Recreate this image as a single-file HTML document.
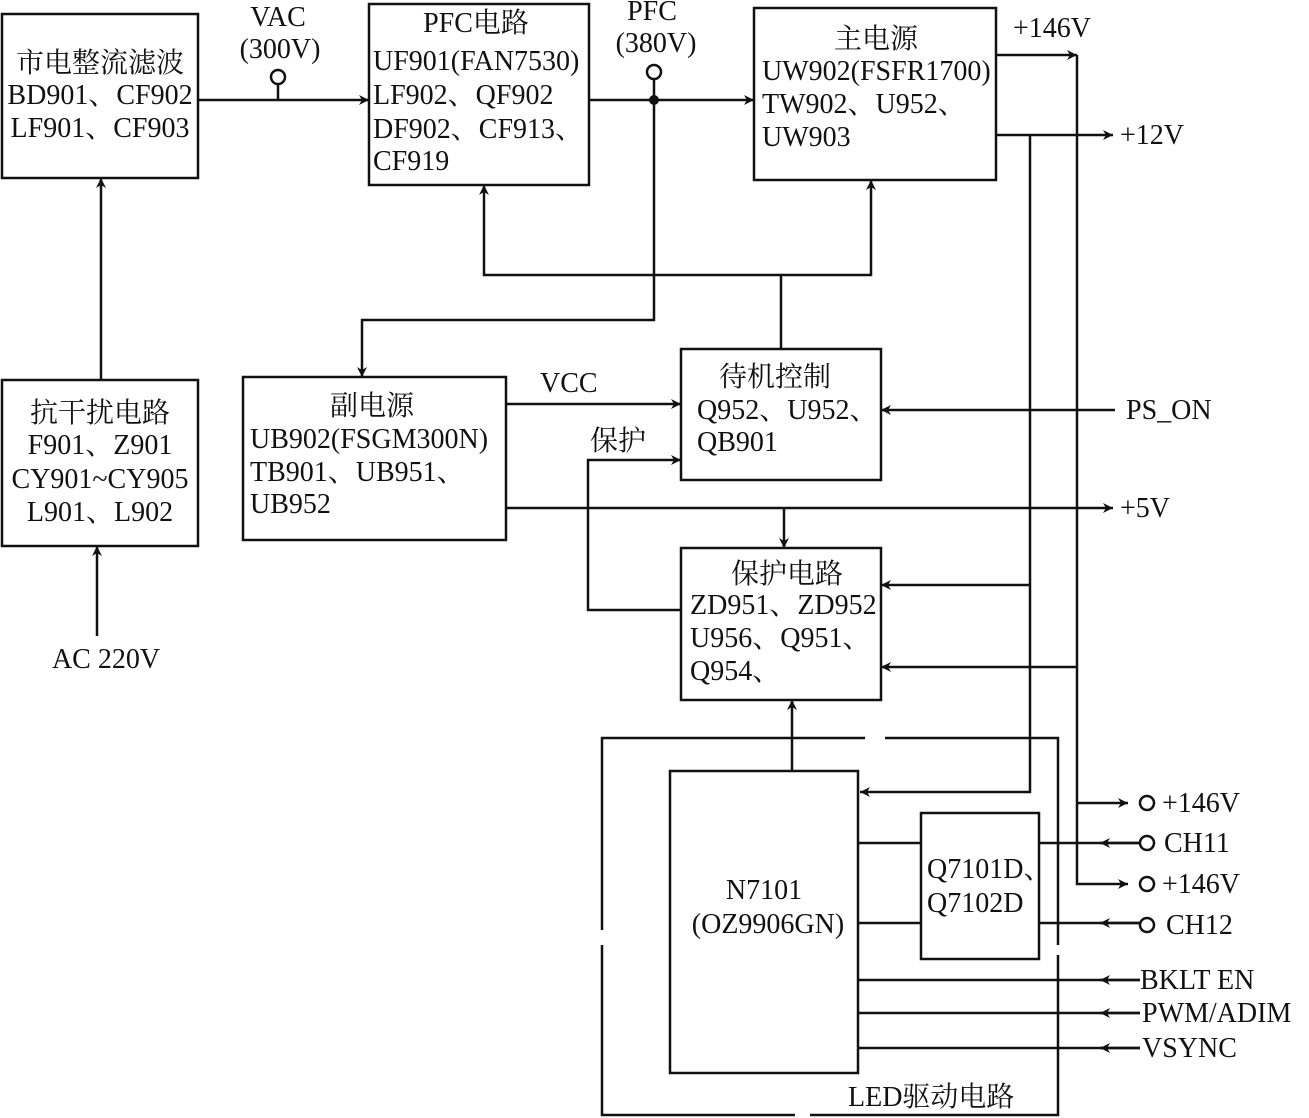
<!DOCTYPE html>
<html><head><meta charset="utf-8"><style>
html,body{margin:0;padding:0;background:#fff;}
svg{display:block}
text{font-family:"Liberation Serif","Noto Serif CJK SC","Noto Sans CJK SC",serif;font-size:28px;fill:#111;}
</style></head><body>
<svg width="1309" height="1118" viewBox="0 0 1309 1118" xmlns="http://www.w3.org/2000/svg">
<defs>
<marker id="a" viewBox="0 0 10 10" refX="10" refY="5" markerWidth="14" markerHeight="10" markerUnits="userSpaceOnUse" orient="auto"><path d="M0,0 L10,5 L0,10 L3,5 Z" fill="#111"/></marker>
</defs>
<g fill="none" stroke="#111" stroke-width="2.5">
<rect x="2" y="14" width="196" height="164"/>
<rect x="2" y="380" width="196" height="166"/>
<rect x="369" y="4" width="220" height="181"/>
<rect x="754" y="8" width="242" height="172"/>
<rect x="243" y="377" width="263" height="163"/>
<rect x="681" y="349" width="200" height="131"/>
<rect x="681" y="548" width="200" height="152"/>
<rect x="670" y="771" width="188" height="302"/>
<rect x="921" y="813" width="118" height="146"/>
<path d="M865,738 H602 V930 M602,945 V1115 H795 M810,1115 H1058 V955 M1058,945 V738 H885"/>
<path d="M97,636 V546" marker-end="url(#a)"/>
<path d="M101,380 V178" marker-end="url(#a)"/>
<path d="M198,100 H369" marker-end="url(#a)"/>
<path d="M278,84 V100"/>
<circle cx="278" cy="77" r="7"/>
<path d="M589,100 H754" marker-end="url(#a)"/>
<path d="M654,79 V320 H362 V377" marker-end="url(#a)"/>
<circle cx="654" cy="72" r="7"/>
<path d="M781,349 V275 H484 V185" marker-end="url(#a)"/>
<path d="M781,275 H871 V180" marker-end="url(#a)"/>
<path d="M506,404 H681" marker-end="url(#a)"/>
<path d="M681,610 H588 V460 H681" marker-end="url(#a)"/>
<path d="M506,508 H1113" marker-end="url(#a)"/>
<path d="M784,508 V548" marker-end="url(#a)"/>
<path d="M1115,410 H881" marker-end="url(#a)"/>
<path d="M996,55 H1077" marker-end="url(#a)"/>
<path d="M1077,55 V884 H1128" marker-end="url(#a)"/>
<path d="M1077,667 H881" marker-end="url(#a)"/>
<path d="M1077,803 H1128" marker-end="url(#a)"/>
<path d="M996,135 H1113" marker-end="url(#a)"/>
<path d="M1030,135 V792 H860" marker-end="url(#a)"/>
<path d="M1030,585 H881" marker-end="url(#a)"/>
<path d="M792,771 V700" marker-end="url(#a)"/>
<path d="M858,843 H921 M858,923 H921"/>
<path d="M1140,843 H1039 M1140,923 H1039"/>
<path d="M1140,843 H1100" marker-end="url(#a)"/>
<path d="M1140,923 H1100" marker-end="url(#a)"/>
<circle cx="1147" cy="803" r="7"/>
<circle cx="1147" cy="843" r="7"/>
<circle cx="1147" cy="884" r="7"/>
<circle cx="1147" cy="925" r="7"/>
<path d="M1140,980 H858 M1140,1013 H858 M1140,1048 H858"/>
<path d="M1140,980 H1100" marker-end="url(#a)"/>
<path d="M1140,1013 H1100" marker-end="url(#a)"/>
<path d="M1140,1048 H1100" marker-end="url(#a)"/>
</g>
<circle cx="654" cy="100" r="5" fill="#111"/>
<text x="100" y="72" text-anchor="middle">市电整流滤波</text>
<text x="100" y="104" text-anchor="middle">BD901、CF902</text>
<text x="100" y="137" text-anchor="middle">LF901、CF903</text>
<text x="100" y="422" text-anchor="middle">抗干扰电路</text>
<text x="100" y="454" text-anchor="middle">F901、Z901</text>
<text x="100" y="488" text-anchor="middle">CY901~CY905</text>
<text x="100" y="521" text-anchor="middle">L901、L902</text>
<text x="106" y="668" text-anchor="middle">AC 220V</text>
<text x="278" y="26" text-anchor="middle">VAC</text>
<text x="280" y="58" text-anchor="middle">(300V)</text>
<text x="476" y="32" text-anchor="middle">PFC电路</text>
<text x="373" y="70">UF901(FAN7530)</text>
<text x="373" y="104">LF902、QF902</text>
<text x="373" y="138">DF902、CF913、</text>
<text x="373" y="170">CF919</text>
<text x="652" y="20" text-anchor="middle">PFC</text>
<text x="656" y="52" text-anchor="middle">(380V)</text>
<text x="876" y="48" text-anchor="middle">主电源</text>
<text x="762" y="80">UW902(FSFR1700)</text>
<text x="762" y="113">TW902、U952、</text>
<text x="762" y="146">UW903</text>
<text x="1013" y="37">+146V</text>
<text x="1120" y="144">+12V</text>
<text x="372" y="415" text-anchor="middle">副电源</text>
<text x="250" y="448">UB902(FSGM300N)</text>
<text x="250" y="481">TB901、UB951、</text>
<text x="250" y="513">UB952</text>
<text x="540" y="392">VCC</text>
<text x="590" y="450">保护</text>
<text x="775" y="386" text-anchor="middle">待机控制</text>
<text x="697" y="419">Q952、U952、</text>
<text x="697" y="451">QB901</text>
<text x="1126" y="419">PS_ON</text>
<text x="1120" y="517">+5V</text>
<text x="787" y="583" text-anchor="middle">保护电路</text>
<text x="690" y="614">ZD951、ZD952</text>
<text x="690" y="647">U956、Q951、</text>
<text x="690" y="680">Q954、</text>
<text x="764" y="899" text-anchor="middle">N7101</text>
<text x="768" y="933" text-anchor="middle">(OZ9906GN)</text>
<text x="927" y="878">Q7101D、</text>
<text x="927" y="912">Q7102D</text>
<text x="1162" y="812">+146V</text>
<text x="1164" y="852">CH11</text>
<text x="1162" y="893">+146V</text>
<text x="1166" y="934">CH12</text>
<text x="1140" y="989">BKLT EN</text>
<text x="1142" y="1022">PWM/ADIM</text>
<text x="1142" y="1057">VSYNC</text>
<text x="848" y="1106">LED驱动电路</text>
</svg>
</body></html>
